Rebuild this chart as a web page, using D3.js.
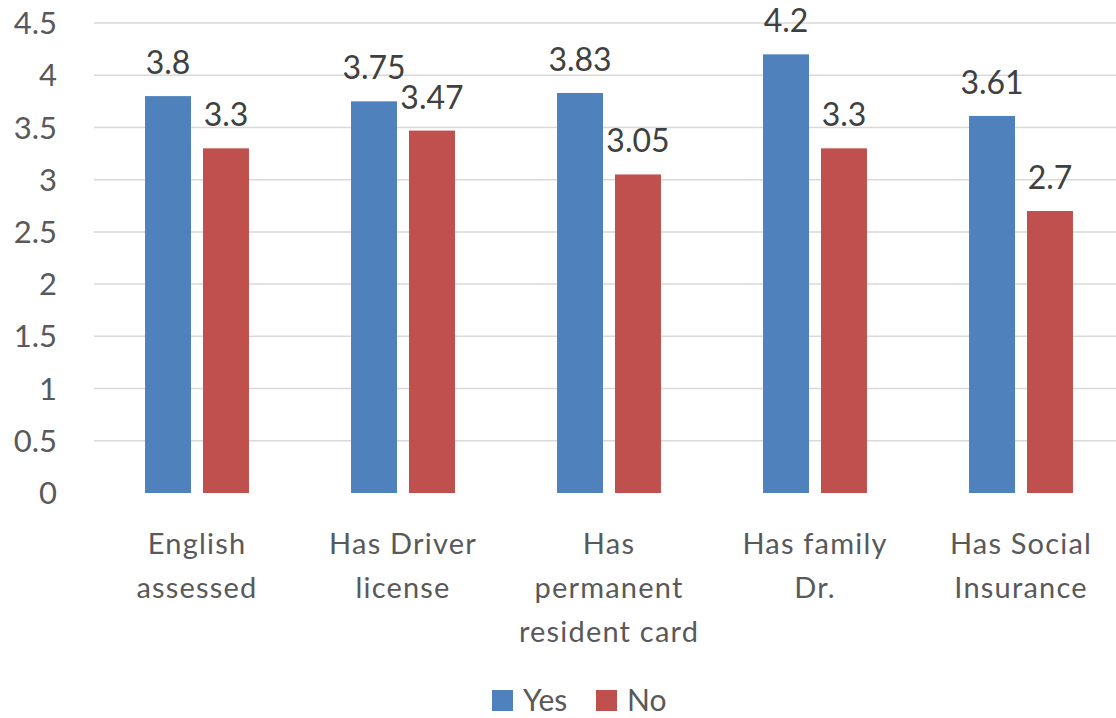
<!DOCTYPE html>
<html>
<head>
<meta charset="utf-8">
<script src="https://cdn.jsdelivr.net/npm/d3@7"></script>
<style>
  body { margin: 0; background: #fff; }
  svg { display: block; font-family: Lato, "Open Sans", sans-serif; }
</style>
</head>
<body>
<div id="chart"></div>
<script>
var width = 1116, height = 718;
var margin = {top: 23, right: -8, bottom: 225, left: 94};

// DATA
const categories = [
  ["English", "assessed"],
  ["Has Driver", "license"],
  ["Has", "permanent", "resident card"],
  ["Has family", "Dr."],
  ["Has Social", "Insurance"]
];
const seriesNames = ["Yes", "No"];
const yesValues = [3.8, 3.75, 3.83, 4.2, 3.61];
const noValues = [3.3, 3.47, 3.05, 3.3, 2.7];
const yTicks = [0, 0.5, 1, 1.5, 2, 2.5, 3, 3.5, 4, 4.5];

// COLORS
const blue = '#4f81bd';
const red = '#c0504d';
const tickColor = '#595959';
const gridColor = '#d9d9d9';

var rows = categories.map(function(c, i) {
  return {cat: i, label: c, Yes: yesValues[i], No: noValues[i]};
});

var x0 = d3.scaleBand()
    .domain(d3.range(categories.length))
    .range([margin.left, width - margin.right])
    .paddingInner(0).paddingOuter(0);

var x1 = d3.scaleBand()
    .domain(seriesNames)
    .range([0, x0.bandwidth()])
    .paddingInner(0.207).paddingOuter(0.88);

var y = d3.scaleLinear()
    .domain([0, 4.5])
    .range([height - margin.bottom, margin.top]);

var color = d3.scaleOrdinal().domain(seriesNames).range([blue, red]);

var svg = d3.select('#chart').append('svg')
    .attr('width', width)
    .attr('height', height);

var defs = svg.append('defs');
var shadow = defs.append('filter').attr('id', 'shadow')
    .attr('x', '-5%').attr('y', '-200%').attr('width', '110%').attr('height', '600%');
shadow.append('feDropShadow')
    .attr('dx', 0).attr('dy', 3).attr('stdDeviation', 2.2)
    .attr('flood-color', '#000').attr('flood-opacity', 0.45);

// gridlines
svg.append('g')
  .selectAll('line')
  .data(yTicks.slice(1))
  .enter().append('line')
    .attr('x1', margin.left)
    .attr('x2', width)
    .attr('y1', function(d) { return y(d); })
    .attr('y2', function(d) { return y(d); })
    .attr('stroke', gridColor)
    .attr('stroke-width', 1.5);

// y tick labels
svg.append('g')
  .selectAll('text')
  .data(yTicks)
  .enter().append('text')
    .attr('x', 57)
    .attr('y', function(d) { return y(d); })
    .attr('dy', '0.36em')
    .attr('text-anchor', 'end')
    .attr('fill', tickColor)
    .style('font-size', '31px')
    .text(function(d) { return d; });

// bars
var groups = svg.append('g')
  .selectAll('g')
  .data(rows)
  .enter().append('g')
    .attr('transform', function(d) { return 'translate(' + x0(d.cat) + ',0)'; });

groups.selectAll('rect')
  .data(function(d) { return seriesNames.map(function(k) { return {key: k, value: d[k]}; }); })
  .enter().append('rect')
    .attr('x', function(d) { return x1(d.key); })
    .attr('y', function(d) { return y(d.value); })
    .attr('width', x1.bandwidth())
    .attr('height', function(d) { return y(0) - y(d.value); })
    .attr('fill', function(d) { return color(d.key); });

groups.selectAll('text.val')
  .data(function(d) { return seriesNames.map(function(k) { return {key: k, value: d[k]}; }); })
  .enter().append('text')
    .attr('class', 'val')
    .attr('x', function(d) { return x1(d.key) + x1.bandwidth() / 2; })
    .attr('y', function(d) { return y(d.value) - 22; })
    .attr('text-anchor', 'middle')
    .attr('fill', '#404040')
    .style('font-size', '32px')
    .text(function(d) { return d.value; });

// x axis line
svg.append('line')
    .attr('x1', margin.left)
    .attr('x2', width)
    .attr('y1', y(0) + 1)
    .attr('y2', y(0) + 1)
    .attr('stroke', '#bfbfbf')
    .attr('stroke-width', 2)
    .attr('filter', 'url(#shadow)');

// category labels
var catLabels = svg.append('g')
  .selectAll('text')
  .data(rows)
  .enter().append('text')
    .attr('text-anchor', 'middle')
    .attr('fill', tickColor)
    .style('font-size', '29px')
    .style('letter-spacing', '1.2px')
    .attr('transform', function(d) { return 'translate(' + (x0(d.cat) + x0.bandwidth() / 2) + ',' + 554 + ')'; });

catLabels.selectAll('tspan')
  .data(function(d) { return d.label; })
  .enter().append('tspan')
    .attr('x', 0)
    .attr('y', function(d, i) { return i * 44; })
    .text(function(d) { return d; });

// legend
var legend = svg.append('g')
    .attr('transform', 'translate(492,690)');

var legendX = [0, 104];
var item = legend.selectAll('g')
  .data(seriesNames)
  .enter().append('g')
    .attr('transform', function(d, i) { return 'translate(' + legendX[i] + ',0)'; });

item.append('rect')
    .attr('width', 21)
    .attr('height', 21)
    .attr('fill', function(d) { return color(d); });

item.append('text')
    .attr('x', 31)
    .attr('y', 21)
    .attr('fill', tickColor)
    .style('font-size', '30px')
    .text(function(d) { return d; });
</script>
</body>
</html>
